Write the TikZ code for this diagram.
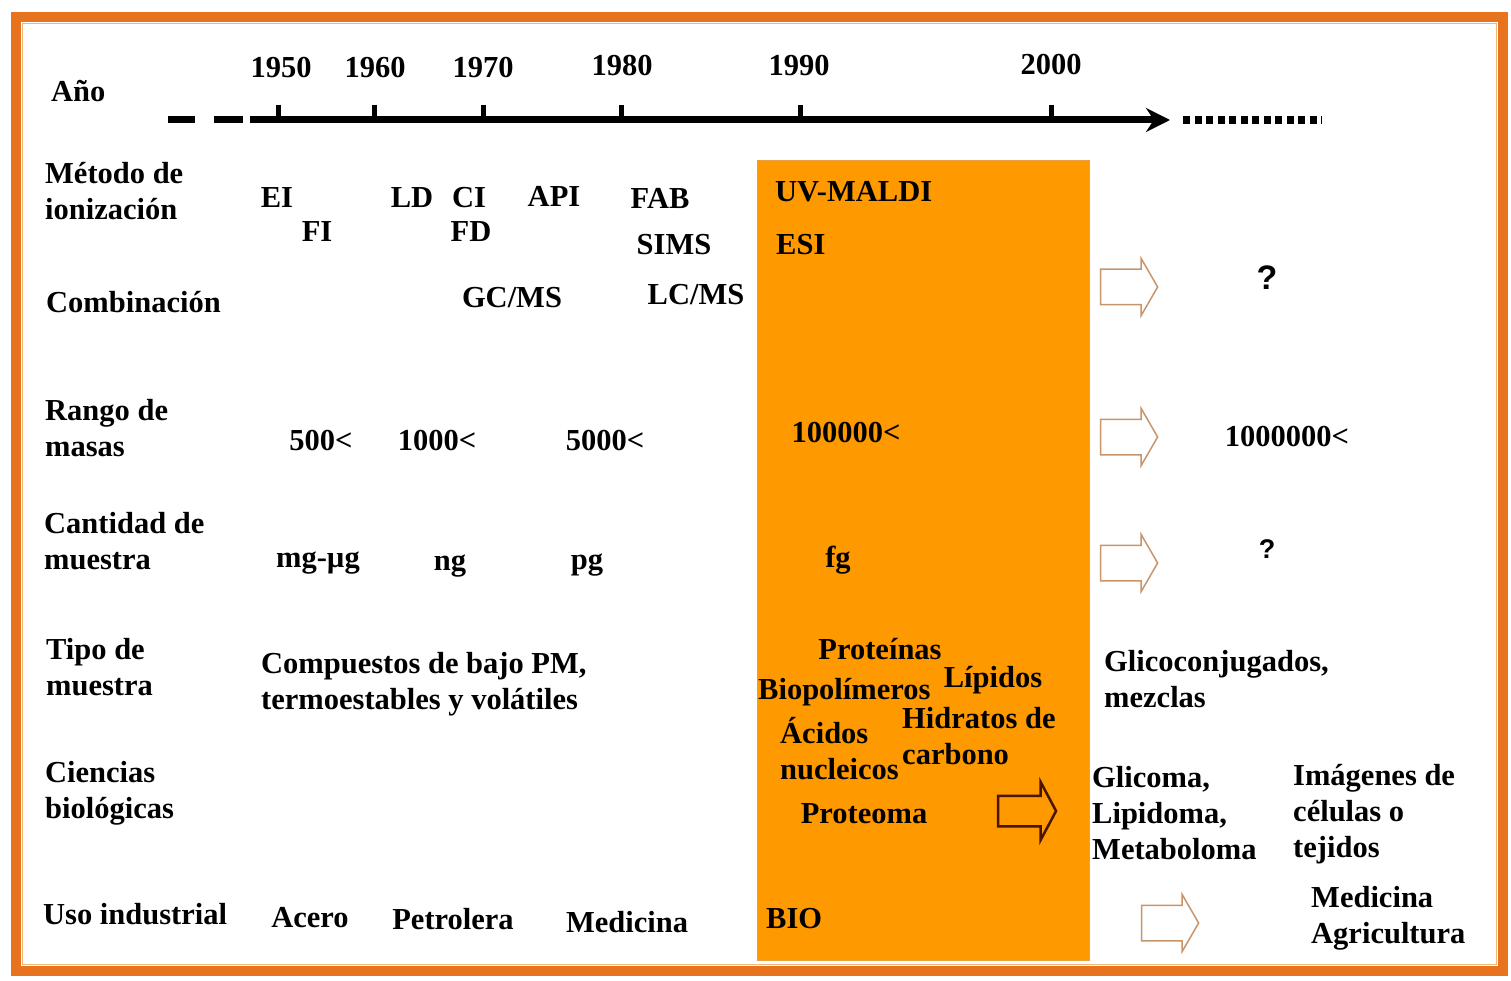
\documentclass[tikz,border=0pt]{standalone}
\usepackage{fontspec}
\setmainfont{Liberation Serif}
\newfontfamily\qfont{Liberation Sans}
\usepackage{tikz}
\usetikzlibrary{shapes,arrows.meta,positioning,calc}
\definecolor{FrameOrange}{HTML}{E8731F}
\definecolor{FrameTan}{HTML}{F2B676}
\definecolor{ColOrange}{HTML}{FF9900}
\definecolor{ColEdge}{HTML}{E8A040}
\definecolor{ArrowTan}{HTML}{C8946A}
\definecolor{ArrowBrown}{HTML}{4A1500}
\tikzset{
    % Base text style
    basetext/.style={
        inner sep=0pt,
        font=\fontsize{30.5}{36}\selectfont\bfseries
    },
    % Row label (left column)
    rowlabel/.style={
        basetext,
        anchor=west,
        align=left
    },
    % Year label
    yearlabel/.style={
        basetext
    },
    % Cell text, centred
    celltext/.style={
        basetext,
        align=center
    },
    % Cell text, left aligned
    leftcell/.style={
        basetext,
        anchor=west,
        align=left
    },
    % Question mark
    qmark/.style={
        inner sep=0pt,
        font=\qfont\fontsize{34}{36}\selectfont\bfseries
    },
    % Time axis
    timearrow/.style={
        -{Stealth[length=24pt,width=24pt]},
        line width=7pt,
        draw=black
    },
    % Tick on time axis
    tickmark/.style={
        line width=5pt,
        draw=black
    },
    % Hollow block arrow
    hollowarrow/.style={
        single arrow,
        draw=ArrowTan,
        fill=white,
        line width=1.5pt,
        minimum height=57pt,
        inner xsep=0pt,
        inner ysep=17pt,
        single arrow head extend=11pt,
        single arrow tip angle=120
    },
    % Dark block arrow inside the column
    darkarrow/.style={
        hollowarrow,
        draw=ArrowBrown,
        fill=none,
        line width=2.5pt,
        minimum height=58pt,
        inner ysep=14pt,
        single arrow head extend=14pt,
        single arrow tip angle=124
    }
}
\begin{document}
\begin{tikzpicture}[x=1pt, y=-1pt]
        \useasboundingbox (0,0) rectangle (1511,981);
        % Frame
        \draw[FrameOrange, line width=10pt] (16,17) rectangle (1503,971);
        \draw[FrameTan, line width=1.5pt] (22.5,23.5) rectangle (1496.5,964.5);

        % Highlighted 1990s column
        \node[fill=ColOrange, draw=ColEdge, line width=1pt, inner sep=0pt,
              minimum width=332pt, minimum height=800pt, anchor=north west] (col) at (757,160) {};

        % Time axis
        \draw[line width=7pt] (168,120) -- (195,120);
        \draw[line width=7pt] (214,120) -- (243,120);
        \coordinate (tstart) at (250,120);
        \coordinate (tend) at (1170,120);
        \draw[timearrow] (tstart) -- (tend);
        \coordinate (dstart) at (1183,120);
        \coordinate (dend) at (1322,120);
        \draw[line width=8pt, dash pattern=on 7pt off 4.5pt] (dstart) -- (dend);

        % Years and ticks
        \node[rowlabel] (ano) at (51,91) {Año};
        \foreach \yr/\xx/\lx/\yy in {1950/278/281/68, 1960/374/375/68, 1970/483/483/68, 1980/621/622/66, 1990/800/799/66, 2000/1051/1051/65}{
            \node[yearlabel] (y\yr) at (\lx,\yy) {\yr};
            \draw[tickmark] (\xx,105) -- (\xx,120);
        }

        % Row labels
        \node[rowlabel] (metodo) at (45,191) {Método de\\ionización};
        \node[rowlabel] (comb) at (46,302) {Combinación};
        \node[rowlabel] (rango) at (45,428) {Rango de\\masas};
        \node[rowlabel] (cant) at (44,541) {Cantidad de\\muestra};
        \node[rowlabel] (tipo) at (46,667) {Tipo de\\muestra};
        \node[rowlabel] (cienc) at (45,793) {Ciencias\\biológicas};
        \node[rowlabel] (uso) at (43,914) {Uso industrial};

        % Ionization methods
        \node[celltext] (ei) at (277,198) {EI};
        \node[celltext] (fi) at (317,232) {FI};
        \node[celltext] (ld) at (412,198) {LD};
        \node[celltext] (ci) at (469,198) {CI};
        \node[celltext] (fd) at (471,232) {FD};
        \node[celltext] (api) at (554,196) {API};
        \node[celltext] (fab) at (660,198) {FAB};
        \node[celltext] (sims) at (674,245) {SIMS};
        \node[leftcell] (maldi) at (775,192) {UV-MALDI};
        \node[leftcell] (esi) at (776,245) {ESI};

        % Combination
        \node[celltext] (gcms) at (512,298) {GC/MS};
        \node[celltext] (lcms) at (696,295) {LC/MS};
        \node[hollowarrow] (arcomb) at (1124,287) {};
        \node[qmark] (q1) at (1267,278) {?};

        % Mass range
        \node[celltext] (m500) at (321,441) {500<};
        \node[celltext] (m1000) at (437,441) {1000<};
        \node[celltext] (m5000) at (605,441) {5000<};
        \node[celltext] (m100k) at (846,433) {100000<};
        \node[hollowarrow] (arrango) at (1124,437) {};
        \node[celltext] (m1m) at (1287,437) {1000000<};

        % Sample amount
        \node[celltext] (mgug) at (318,563) {mg-µg};
        \node[celltext] (ng) at (450,566) {ng};
        \node[celltext] (pg) at (587,565) {pg};
        \node[celltext] (fg) at (838,560) {fg};
        \node[hollowarrow] (arcant) at (1124,563) {};
        \node[qmark, font=\qfont\fontsize{27}{30}\selectfont\bfseries] (q2) at (1267,549) {?};

        % Sample type
        \node[leftcell] (comp) at (261,684) {Compuestos de bajo PM,\\termoestables y volátiles};
        \node[celltext] (prot) at (880,649) {Proteínas};
        \node[leftcell] (biop) at (758,692) {Biopolímeros};
        \node[celltext] (lip) at (993,680) {Lípidos};
        \node[leftcell] (acid) at (780,749) {Ácidos\\nucleicos};
        \node[leftcell] (hidr) at (902,736) {Hidratos de\\carbono};
        \node[leftcell] (glic) at (1104,679) {Glicoconjugados,\\mezclas};

        % Biological sciences
        \node[celltext] (proteoma) at (864,814) {Proteoma};
        \node[darkarrow] (arprot) at (1023,811) {};
        \node[leftcell] (omas) at (1092,813) {Glicoma,\\Lipidoma,\\Metaboloma};
        \node[leftcell] (imag) at (1293,814) {Imágenes de\\células o\\tejidos};

        % Industrial use
        \node[celltext] (acero) at (310,918) {Acero};
        \node[celltext] (petro) at (453,919) {Petrolera};
        \node[celltext] (medic) at (627,922) {Medicina};
        \node[leftcell] (bio) at (766,919) {BIO};
        \node[hollowarrow] (aruso) at (1165,923) {};
        \node[leftcell] (medagr) at (1311,918) {Medicina\\Agricultura};
    \end{tikzpicture}
\end{document}
